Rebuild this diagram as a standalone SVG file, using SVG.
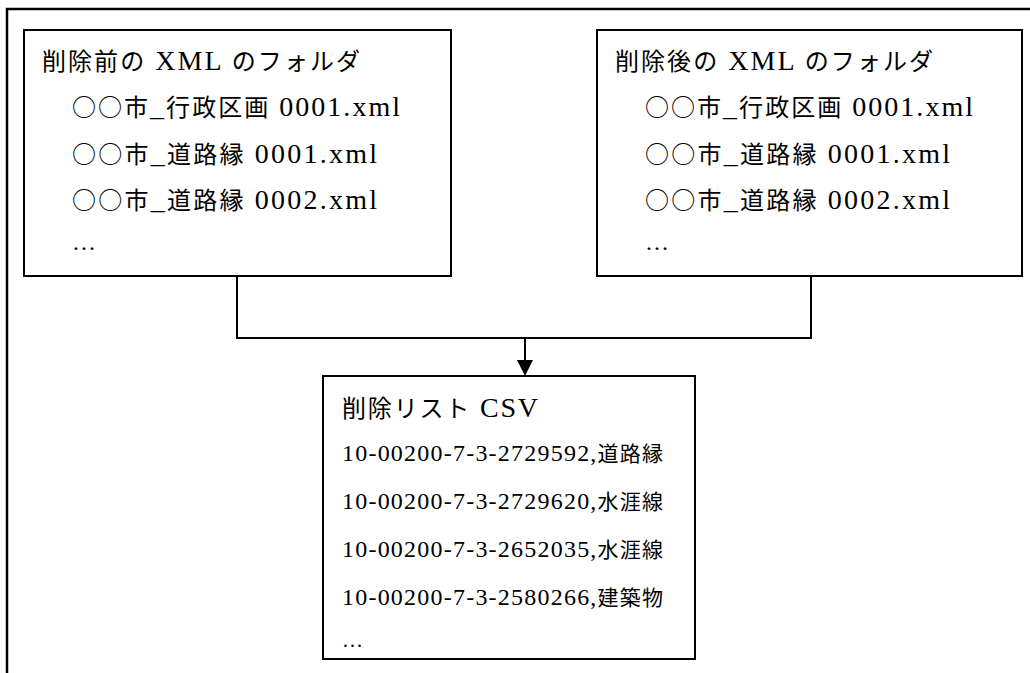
<svg xmlns="http://www.w3.org/2000/svg" width="1030" height="673" viewBox="0 0 1030 673">
<defs>
<marker id="ah" markerWidth="16" markerHeight="16" refX="10" refY="8" orient="auto" markerUnits="userSpaceOnUse"><path d="M0,0 L16,8 L0,16 Z" fill="#000"/></marker>
<style>
.box{fill:#fff;stroke:#000;stroke-width:2}
.t{font-family:"Liberation Serif","Noto Sans CJK JP",serif;font-size:24px;fill:#000}
.s{font-size:21px}
.L{font-size:28px}
.Ls{font-size:24px}
.j{font-family:"Noto Sans CJK JP",sans-serif}
.c{stroke:#000;stroke-width:2;fill:none}
</style>
</defs>
<rect width="1030" height="673" fill="#fff"/>
<path d="M7,673 V9 H1030" fill="none" stroke="#000" stroke-width="2.5"/>
<g id="connectors">
<path class="c" d="M237,276 V338 H811 V276"/>
<path class="c" d="M525,338 V370" marker-end="url(#ah)"/>
</g>
<g id="before">
<rect class="box" x="24" y="30" width="427" height="246"/>
<text class="t" x="42" y="70" textLength="318">削除前の<tspan class="L"> XML </tspan>のフォルダ</text>
<text class="t" x="72" y="116" textLength="328"><tspan class="j">○○</tspan>市<tspan class="L">_</tspan>行政区画<tspan class="L"> 0001.xml</tspan></text>
<text class="t" x="72" y="163" textLength="305"><tspan class="j">○○</tspan>市<tspan class="L">_</tspan>道路縁<tspan class="L"> 0001.xml</tspan></text>
<text class="t" x="72" y="209" textLength="305"><tspan class="j">○○</tspan>市<tspan class="L">_</tspan>道路縁<tspan class="L"> 0002.xml</tspan></text>
<text class="t" x="72" y="250">…</text>
</g>
<g id="after">
<rect class="box" x="597" y="30" width="425" height="246"/>
<text class="t" x="615" y="70" textLength="318">削除後の<tspan class="L"> XML </tspan>のフォルダ</text>
<text class="t" x="645" y="116" textLength="328"><tspan class="j">○○</tspan>市<tspan class="L">_</tspan>行政区画<tspan class="L"> 0001.xml</tspan></text>
<text class="t" x="645" y="163" textLength="305"><tspan class="j">○○</tspan>市<tspan class="L">_</tspan>道路縁<tspan class="L"> 0001.xml</tspan></text>
<text class="t" x="645" y="209" textLength="305"><tspan class="j">○○</tspan>市<tspan class="L">_</tspan>道路縁<tspan class="L"> 0002.xml</tspan></text>
<text class="t" x="645" y="250">…</text>
</g>
<g id="csv">
<rect class="box" x="323" y="376" width="372" height="283"/>
<text class="t" x="342" y="417" textLength="196">削除リスト<tspan class="L"> CSV</tspan></text>
<text class="t s" x="342" y="461" textLength="321"><tspan class="Ls">10-00200-7-3-2729592,</tspan>道路縁</text>
<text class="t s" x="342" y="509" textLength="321"><tspan class="Ls">10-00200-7-3-2729620,</tspan>水涯線</text>
<text class="t s" x="342" y="557" textLength="321"><tspan class="Ls">10-00200-7-3-2652035,</tspan>水涯線</text>
<text class="t s" x="342" y="605" textLength="321"><tspan class="Ls">10-00200-7-3-2580266,</tspan>建築物</text>
<text class="t s" x="342" y="647">…</text>
</g>
</svg>
